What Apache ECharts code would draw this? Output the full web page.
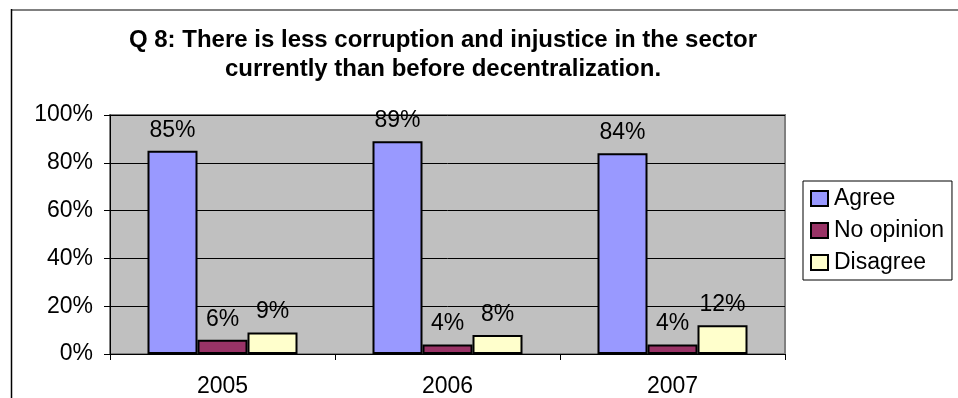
<!DOCTYPE html>
<html>
<head>
<meta charset="utf-8">
<script src="https://cdn.jsdelivr.net/npm/echarts@6/dist/echarts.min.js"></script>
<style>
  html, body { margin: 0; padding: 0; background: #fff; }
  #chart { width: 958px; height: 398px; }
</style>
</head>
<body>
<div id="chart"></div>
<script>
// Survey responses per year, in percent
const years = ['2005', '2006', '2007'];
const agree = [85, 89, 84];
const noOpinion = [6, 4, 4];
const disagree = [9, 8, 12];
const yTicks = [0, 20, 40, 60, 80, 100];

const chart = echarts.init(document.getElementById('chart'));

const font = 'Liberation Sans, Arial, sans-serif';
const labelStyle = {
  show: true,
  position: 'top',
  distance: 9,
  formatter: '{c}%',
  color: '#000',
  fontFamily: font,
  fontSize: 23
};

function barSeries(name, data, color) {
  return {
    name: name,
    type: 'bar',
    data: data,
    barWidth: 50,
    barGap: '0%',
    itemStyle: { color: color, borderColor: '#000', borderWidth: 2 },
    label: labelStyle
  };
}

chart.setOption({
  animation: false,
  backgroundColor: '#fff',
  title: {
    text: 'Q 8: There is less corruption and injustice in the sector\ncurrently than before decentralization.',
    left: 438,
    textAlign: 'center',
    top: 21,
    textStyle: {
      fontFamily: font,
      fontWeight: 'bold',
      fontSize: 24,
      lineHeight: 29,
      color: '#000'
    }
  },
  grid: {
    left: 110,
    right: 173,
    top: 115,
    bottom: 44,
    show: true,
    backgroundColor: '#C0C0C0',
    borderColor: '#808080',
    borderWidth: 2
  },
  legend: {
    orient: 'vertical',
    left: 803,
    top: 181,
    width: 154,
    backgroundColor: '#fff',
    borderColor: '#000',
    borderWidth: 1,
    padding: [6, 8, 6, 7],
    itemGap: 9,
    itemWidth: 17,
    itemHeight: 15,
    icon: 'rect',
    textStyle: { fontFamily: font, fontSize: 23, color: '#000', padding: [0, 0, 0, 1] },
    data: ['Agree', 'No opinion', 'Disagree']
  },
  xAxis: {
    type: 'category',
    data: years,
    axisLine: { lineStyle: { color: '#000', width: 1 } },
    axisTick: { show: true, length: 6, lineStyle: { color: '#000' } },
    axisLabel: {
      fontFamily: font,
      fontSize: 23,
      color: '#000',
      margin: 21
    }
  },
  yAxis: {
    type: 'value',
    min: yTicks[0],
    max: yTicks[yTicks.length - 1],
    interval: yTicks[1] - yTicks[0],
    axisLine: { show: true, lineStyle: { color: '#000', width: 1 } },
    axisTick: { show: true, length: 6, lineStyle: { color: '#000' } },
    splitLine: { show: true, lineStyle: { color: '#000', width: 1 } },
    axisLabel: {
      formatter: '{value}%',
      fontFamily: font,
      fontSize: 23,
      color: '#000',
      margin: 17
    }
  },
  series: [
    barSeries('Agree', agree, '#9999FF'),
    barSeries('No opinion', noOpinion, '#993366'),
    barSeries('Disagree', disagree, '#FFFFCC')
  ],
  graphic: [
    {
      type: 'line',
      shape: { x1: 11, y1: 10, x2: 958, y2: 10 },
      style: { stroke: '#808080', lineWidth: 2 }
    },
    {
      type: 'line',
      shape: { x1: 11.5, y1: 9, x2: 11.5, y2: 398 },
      style: { stroke: '#000', lineWidth: 1.5 }
    }
  ]
});
</script>
</body>
</html>
